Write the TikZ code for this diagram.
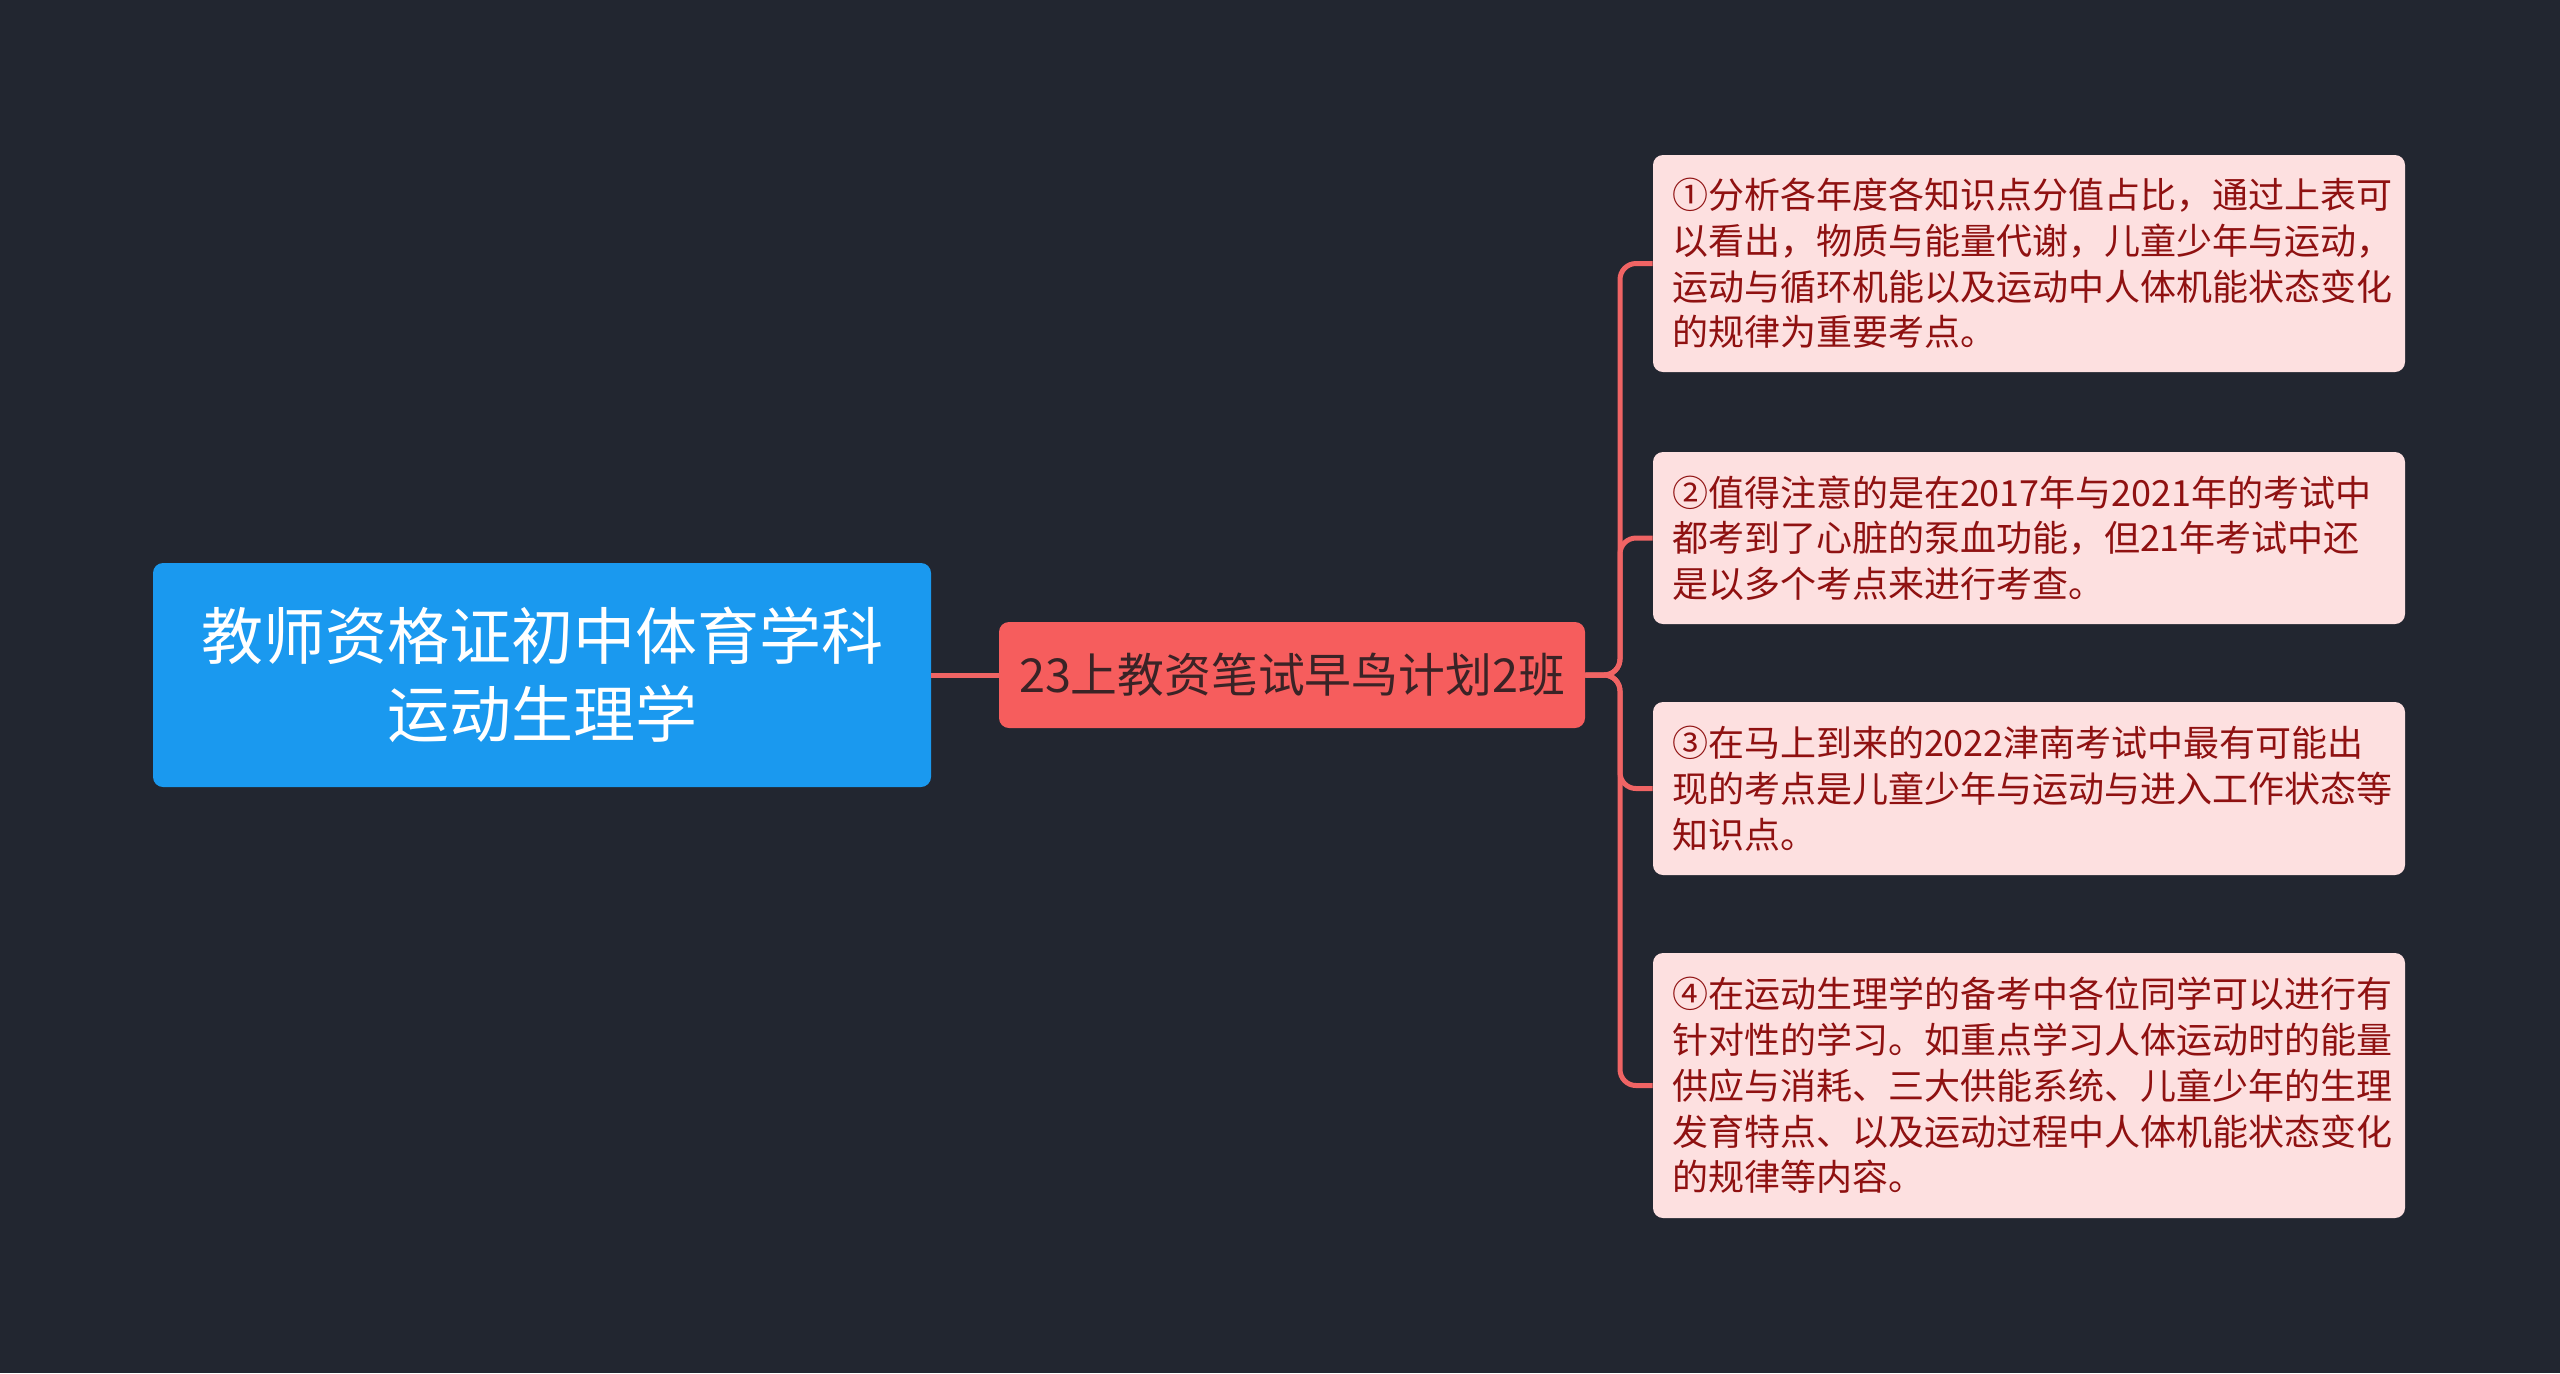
\documentclass[tikz,border=0pt]{standalone}
\usepackage{fontspec}
\setmainfont{Noto Sans CJK SC}
\definecolor{bg}{HTML}{222630}
\definecolor{rootblue}{HTML}{1A99EF}
\definecolor{midred}{HTML}{F65D5D}
\definecolor{midtext}{HTML}{3A2326}
\definecolor{leaffill}{HTML}{FDE0E0}
\definecolor{leaftext}{HTML}{8F1111}
\definecolor{link}{HTML}{F06464}
\tikzset{
  rootbox/.style={fill=rootblue, rounded corners=5pt, minimum width=389pt, minimum height=112pt,
    align=center, text=white, font=\fontsize{31pt}{39pt}\selectfont, inner sep=0pt},
  midbox/.style={fill=midred, rounded corners=5pt, minimum width=293pt, minimum height=53pt,
    text=midtext, font=\fontsize{23.4pt}{28pt}\selectfont, inner sep=0pt},
  leafbox/.style={fill=leaffill, rounded corners=5pt, text width=357pt, inner xsep=9.5pt, inner ysep=0pt,
    align=left, text=leaftext, font=\fontsize{18pt}{22.85pt}\selectfont},
  linkline/.style={draw=link, line width=2.5pt},
}
\begin{document}
\begin{tikzpicture}[x=0.5pt,y=-0.5pt]
\fill[bg] (0,0) rectangle (2560,1373);
\useasboundingbox (0,0) rectangle (2560,1373);
\node[rootbox] (root) at (542,675) {教师资格证初中体育学科\\运动生理学};
\node[midbox] (mid) at (1292,675) {23上教资笔试早鸟计划2班};
\node[leafbox, minimum height=108.5pt] (l1) at (2029,263.5) {①分析各年度各知识点分值占比，通过上表可\\以看出，物质与能量代谢，儿童少年与运动，\\运动与循环机能以及运动中人体机能状态变化\\的规律为重要考点。};
\node[leafbox, minimum height=86pt] (l2) at (2029,538) {②值得注意的是在2017年与2021年的考试中\\都考到了心脏的泵血功能，但21年考试中还\\是以多个考点来进行考查。};
\node[leafbox, minimum height=86.5pt] (l3) at (2029,788.5) {③在马上到来的2022津南考试中最有可能出\\现的考点是儿童少年与运动与进入工作状态等\\知识点。};
\node[leafbox, minimum height=132.5pt] (l4) at (2029,1085.5) {④在运动生理学的备考中各位同学可以进行有\\针对性的学习。如重点学习人体运动时的能量\\供应与消耗、三大供能系统、儿童少年的生理\\发育特点、以及运动过程中人体机能状态变化\\的规律等内容。};
\coordinate (trunk) at (1620,675);
\draw[linkline] (root.east) -- (mid.west);
\foreach \n in {l1,l2,l3,l4}{
  \draw[linkline, rounded corners=8pt] (mid.east) -- (trunk) |- (\n.west);
}
\end{tikzpicture}
\end{document}
